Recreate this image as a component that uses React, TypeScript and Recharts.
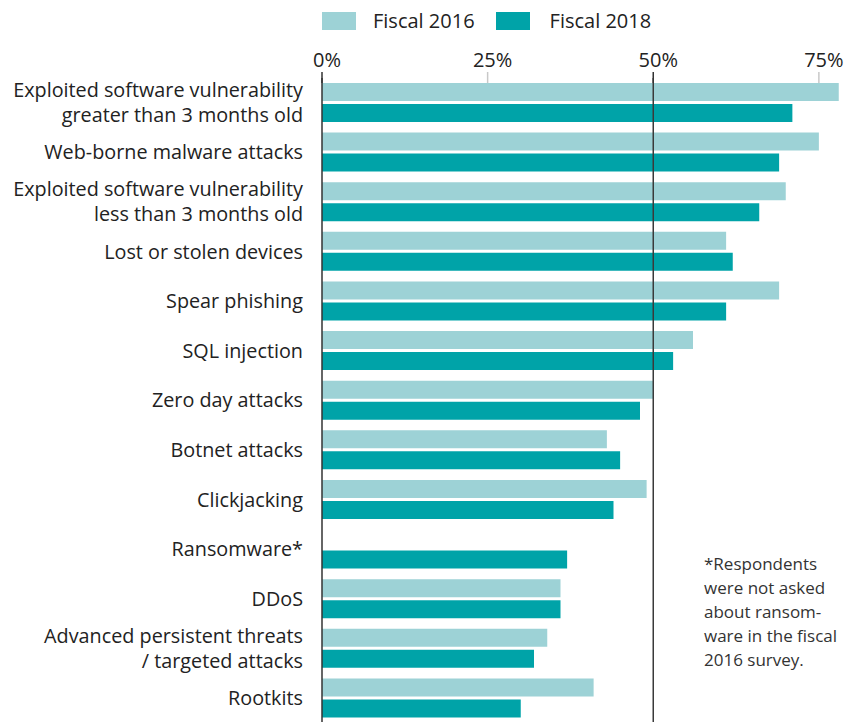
import React from "react";
import {
  BarChart,
  Bar,
  XAxis,
  YAxis,
  ReferenceLine,
} from "recharts";

const categories = [
  "Exploited software vulnerability\ngreater than 3 months old",
  "Web-borne malware attacks",
  "Exploited software vulnerability\nless than 3 months old",
  "Lost or stolen devices",
  "Spear phishing",
  "SQL injection",
  "Zero day attacks",
  "Botnet attacks",
  "Clickjacking",
  "Ransomware*",
  "DDoS",
  "Advanced persistent threats\n/ targeted attacks",
  "Rootkits",
];

// ransomware was not asked in fiscal 2016
const fiscal2016 = [78, 75, 70, 61, 69, 56, 50, 43, 49, null, 36, 34, 41];
const fiscal2018 = [71, 69, 66, 62, 61, 53, 48, 45, 44, 37, 36, 32, 30];

const xTicks = [0, 25, 50, 75];

const footnote = [
  "*Respondents",
  "were not asked",
  "about ransom-",
  "ware in the fiscal",
  "2016 survey.",
];

const LIGHT = "#9dd2d6";
const DARK = "#00a3a8";
const TEXT = "#222222";
const FONT = "'Open Sans', sans-serif";

const data = categories.map((name, i) => ({
  name,
  fiscal2016: fiscal2016[i],
  fiscal2018: fiscal2018[i],
}));

function TopTick(props: any) {
  const { x, y, payload } = props;
  const major = payload.value === 0 || payload.value === 50;
  return (
    <g>
      <line
        x1={x}
        x2={x}
        y1={y + 4}
        y2={y + 15}
        stroke={major ? "#333" : "#c8c8c8"}
        strokeWidth={1.5}
      />
      <text
        x={x + 5}
        y={y - 1}
        textAnchor="middle"
        fill={TEXT}
        fontSize={20}
        fontFamily={FONT}
      >
        {payload.value}%
      </text>
    </g>
  );
}

function CategoryTick(props: any) {
  const { x, y, payload } = props;
  const lines = String(payload.value).split("\n");
  const lh = 25;
  const start = y - ((lines.length - 1) * lh) / 2;
  return (
    <text
      x={x}
      y={start}
      textAnchor="end"
      fill={TEXT}
      fontSize={19.8}
      fontFamily={FONT}
    >
      {lines.map((l, i) => (
        <tspan key={i} x={x} y={start + i * lh} dy="0.35em">
          {l}
        </tspan>
      ))}
    </text>
  );
}

export default function App() {
  return (
    <div
      style={{
        position: "absolute",
        left: 0,
        top: 0,
        width: 856,
        height: 722,
        background: "#fff",
        fontFamily: FONT,
      }}
    >
      {/* legend */}
      <div
        style={{
          position: "absolute",
          left: 322,
          top: 6,
          display: "flex",
          alignItems: "center",
          fontSize: 20,
          color: TEXT,
          lineHeight: "30px",
        }}
      >
        <span style={{ width: 34, height: 18, background: LIGHT, display: "inline-block" }} />
        <span style={{ marginLeft: 17, marginRight: 21 }}>Fiscal 2016</span>
        <span style={{ width: 34, height: 18, background: DARK, display: "inline-block" }} />
        <span style={{ marginLeft: 20 }}>Fiscal 2018</span>
      </div>

      <BarChart
        width={856}
        height={722}
        data={data}
        layout="vertical"
        margin={{ top: 20, right: 4, bottom: -1, left: 0 }}
        barSize={18}
        barGap={3}
      >
        <XAxis
          type="number"
          orientation="top"
          domain={[0, 80]}
          ticks={xTicks}
          height={58}
          axisLine={false}
          tickLine={false}
          tickSize={6}
          tickMargin={4}
          tick={<TopTick />}
          interval={0}
        />
        <YAxis
          type="category"
          dataKey="name"
          width={322}
          axisLine={{ stroke: "#333", strokeWidth: 1.5 }}
          tickLine={false}
          tickSize={10}
          tickMargin={9}
          tick={<CategoryTick />}
          interval={0}
        />
        <Bar dataKey="fiscal2016" fill={LIGHT} isAnimationActive={false} />
        <Bar dataKey="fiscal2018" fill={DARK} isAnimationActive={false} />
        <ReferenceLine x={50} stroke="#3a3a3a" strokeWidth={1.5} />
      </BarChart>

      {/* footnote */}
      <div
        style={{
          position: "absolute",
          left: 704,
          top: 552,
          fontSize: 17,
          lineHeight: "24px",
          color: "#333",
        }}
      >
        {footnote.map((l) => (
          <div key={l}>{l}</div>
        ))}
      </div>
    </div>
  );
}
